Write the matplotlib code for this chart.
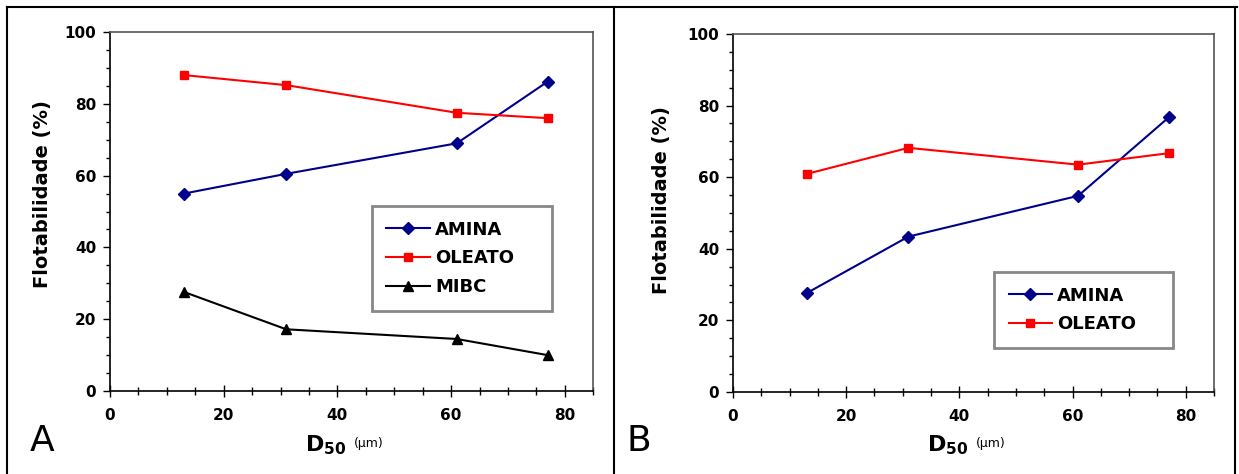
import matplotlib.pyplot as plt
from matplotlib.ticker import MultipleLocator
from matplotlib.lines import Line2D

# panel A data
d50_a = [13, 31, 61, 77]
amina_a = [55.0, 60.5, 69.0, 86.2]
oleato_a = [88.0, 85.2, 77.5, 76.0]
mibc_a = [27.6, 17.2, 14.5, 10.0]

# panel B data
d50_b = [13, 31, 61, 77]
amina_b = [27.6, 43.4, 54.8, 76.7]
oleato_b = [60.9, 68.2, 63.5, 66.7]

x_ticks = [0, 20, 40, 60, 80]
y_ticks = [0, 20, 40, 60, 80, 100]

plt.rcParams['font.family'] = 'DejaVu Sans'

fig = plt.figure(figsize=(12.39, 4.74), dpi=100, facecolor="white")

ax_a = fig.add_axes([0.0888, 0.175, 0.390, 0.7575])
ax_b = fig.add_axes([0.5916, 0.173, 0.3882, 0.7553])

styles = {
    "AMINA": dict(color="#00008b", marker="D", markersize=6),
    "OLEATO": dict(color="#ff0000", marker="s", markersize=6),
    "MIBC": dict(color="black", marker="^", markersize=7),
}


def style_axes(ax, label_xy):
    ax.set_xlim(0, 85)
    ax.set_ylim(0, 100)
    ax.set_xticks(x_ticks)
    ax.set_yticks(y_ticks)
    ax.xaxis.set_minor_locator(MultipleLocator(5))
    ax.yaxis.set_minor_locator(MultipleLocator(5))
    ax.tick_params(axis="x", which="major", direction="inout", length=8, width=1,
                   pad=8, labelsize=11)
    ax.tick_params(axis="x", which="minor", direction="inout", length=6, width=1)
    ax.tick_params(axis="y", which="major", direction="out", length=5, width=1,
                   pad=5, labelsize=11)
    ax.tick_params(axis="y", which="minor", direction="out", length=3, width=1)
    for lab in ax.get_xticklabels() + ax.get_yticklabels():
        lab.set_fontweight("bold")
    ax.spines["left"].set_color("black")
    ax.spines["bottom"].set_color("black")
    ax.spines["top"].set_color("#555555")
    ax.spines["right"].set_color("#555555")
    for s in ax.spines.values():
        s.set_linewidth(1.2)
    ax.set_ylabel("Flotabilidade (%)", fontsize=14, fontweight="bold")
    ax.yaxis.set_label_coords(*label_xy)
    ax.text(0.49, -0.15, r"$\mathbf{D_{50}}$", transform=ax.transAxes,
            fontsize=16, ha="right", va="center")
    ax.text(0.505, -0.145, "(µm)", transform=ax.transAxes,
            fontsize=9, ha="left", va="center")


def add_legend(ax, anchor):
    leg = ax.legend(loc="upper left", bbox_to_anchor=anchor, mode="expand",
                    fancybox=False, edgecolor="#888888", framealpha=1,
                    prop={"weight": "bold", "size": 13}, handlelength=2.4,
                    borderpad=0.8, labelspacing=0.6, handletextpad=0.3,
                    borderaxespad=0)
    leg.get_frame().set_linewidth(2)
    return leg


style_axes(ax_a, (-0.12, 0.55))
ax_a.plot(d50_a, amina_a, lw=1.5, label="AMINA", **styles["AMINA"])
ax_a.plot(d50_a, oleato_a, lw=1.5, label="OLEATO", **styles["OLEATO"])
ax_a.plot(d50_a, mibc_a, lw=1.5, label="MIBC", **styles["MIBC"])
add_legend(ax_a, (0.542, 0.22, 0.373, 0.295))

style_axes(ax_b, (-0.129, 0.536))
ax_b.plot(d50_b, amina_b, lw=1.5, label="AMINA", **styles["AMINA"])
ax_b.plot(d50_b, oleato_b, lw=1.5, label="OLEATO", **styles["OLEATO"])
add_legend(ax_b, (0.543, 0.112, 0.372, 0.223))

# panel letters
fig.text(0.024, 0.07, "A", fontsize=26, ha="left", va="center")
fig.text(0.506, 0.07, "B", fontsize=26, ha="left", va="center")

# outer frame and divider
fig.add_artist(Line2D([0.006, 0.006], [0, 0.985], color="black", lw=1.5))
fig.add_artist(Line2D([0.006, 0.998], [0.985, 0.985], color="black", lw=1.5))
fig.add_artist(Line2D([0.997, 0.997], [0, 0.985], color="black", lw=1.5))
fig.add_artist(Line2D([0.4955, 0.4955], [0, 0.985], color="black", lw=1.5))

fig.savefig("out.png", dpi=100)
